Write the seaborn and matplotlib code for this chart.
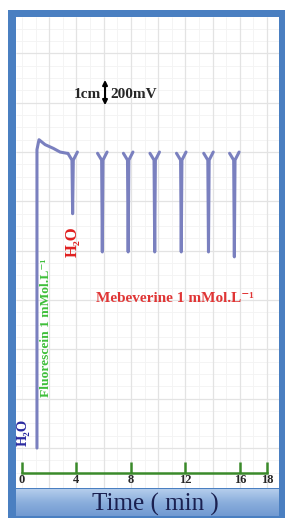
import numpy as np
import pandas as pd
import seaborn as sns
import matplotlib.pyplot as plt
from matplotlib.patches import Rectangle
from matplotlib.colors import LinearSegmentedColormap

sns.set_style("white")
plt.rcParams['font.family'] = ['Liberation Serif', 'DejaVu Serif']

# recorder trace (time in min, signal in mV)
start_t = [1.1, 1.1, 1.25, 1.7, 2.3, 2.8, 3.3]
start_mv = [0, 2420, 2500, 2460, 2430, 2400, 2390]

# mebeverine injections: time of dip and bottom of dip
dip_t = [3.72, 5.9, 7.8, 9.75, 11.7, 13.7, 15.6]
dip_bottom = [1900, 1590, 1590, 1590, 1590, 1590, 1550]
# Y-shaped top of every dip (offsets around the dip)
arm_dt = [-0.35, -0.05, 0.0, 0.05, 0.35]
arm_mv = [2390, 2335, None, 2335, 2400]

tick_vals = [0, 4, 8, 12, 16, 18]

rows = []
for t, v in zip(start_t, start_mv):
    rows.append({"seg": 0, "t": t, "mv": v})
for i, (t0, b) in enumerate(zip(dip_t, dip_bottom)):
    for dt, v in zip(arm_dt, arm_mv):
        rows.append({"seg": i + 1, "t": t0 + dt, "mv": b if v is None else v})
df = pd.DataFrame(rows)

fig = plt.figure(figsize=(2.88, 5.21), dpi=100)
frame = Rectangle((8 / 288, 1 - 518 / 521), 277 / 288, 508 / 521,
                  transform=fig.transFigure, facecolor='#4a7fc1',
                  edgecolor='none', zorder=-10)
fig.add_artist(frame)

ax = fig.add_axes([16 / 288, 1 - 488 / 521, 263 / 288, 471 / 521])
ax.set_zorder(1)
ax.set_facecolor('white')
ax.set_xlim(-0.44, 18.88)
ax.set_ylim(-324, 3495)

# chart paper grid
ax.vlines(np.arange(0, 19, 1), -324, 3495, color='#f3f3f3', lw=0.6, zorder=0)
ax.hlines(np.arange(-200, 3500, 100), -0.44, 18.88, color='#f3f3f3', lw=0.6, zorder=0)
ax.vlines(np.arange(2, 19, 2), -324, 3495, color='#e3e3e3', lw=0.9, zorder=0)
ax.hlines(np.arange(0, 3500, 400), -0.44, 18.88, color='#e3e3e3', lw=0.9, zorder=0)

sns.lineplot(data=df, x="t", y="mv", units="seg", estimator=None, sort=False,
             color='#7a80bf', lw=2.2, ax=ax, legend=False)

for s in ['top', 'left', 'right']:
    ax.spines[s].set_visible(False)
ax.spines['bottom'].set_position(('data', -200))
ax.spines['bottom'].set_bounds(0, 18)
ax.spines['bottom'].set_color('#3a8a2a')
ax.spines['bottom'].set_linewidth(1.8)
ax.set_xticks(tick_vals)
ax.set_xticklabels([str(v) for v in tick_vals], fontweight='bold', fontsize=9)
ax.tick_params(axis='x', direction='in', length=8, width=1.8, color='#3a8a2a',
               pad=1, bottom=True)
ax.set_yticks([])
ax.set_xlabel('')
ax.set_ylabel('')

# scale bar
ax.annotate('', xy=(6.1, 2780), xytext=(6.1, 2985),
            arrowprops=dict(arrowstyle='<|-|>', color='black', lw=1.5,
                            mutation_scale=7, shrinkA=0, shrinkB=0))
ax.text(5.8, 2870, '1cm', ha='right', va='center', fontsize=11, fontweight='bold')
ax.text(6.5, 2870, '200mV', ha='left', va='center', fontsize=11, fontweight='bold')

ax.text(3.75, 1670, 'H₂O', rotation=90, ha='center', va='center', fontsize=12,
        fontweight='bold', color='#e02020')
ax.text(0.12, 130, 'H₂O', rotation=90, ha='center', va='center', fontsize=10.5,
        fontweight='bold', color='#2a2aa0')
ax.text(1.76, 973, 'Fluorescein 1 mMol.L⁻¹', rotation=90, ha='center', va='center',
        fontsize=9.7, fontweight='bold', color='#3fbf3a')
ax.text(11.2, 1210, 'Mebeverine 1 mMol.L⁻¹', ha='center', va='center',
        fontsize=11, fontweight='bold', color='#e03535')

# title band
bax = fig.add_axes([16 / 288, 1 - 516 / 521, 263 / 288, 27 / 521])
bax.set_zorder(1)
cmap = LinearSegmentedColormap.from_list('band', ['#b4cdec', '#8aaedc', '#729ad2'])
bax.imshow(np.linspace(0, 1, 50).reshape(-1, 1), aspect='auto', cmap=cmap,
           extent=[0, 1, 0, 1])
bax.set_axis_off()
bax.text(0.53, 0.42, 'Time ( min )', ha='center', va='center', fontsize=18,
         color='#1a2050', transform=bax.transAxes)

fig.savefig('out.png', dpi=100)
